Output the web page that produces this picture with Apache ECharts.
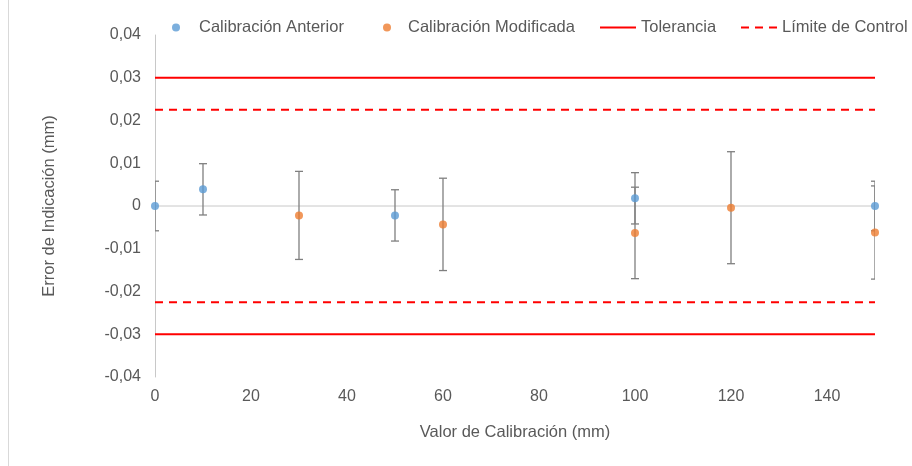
<!DOCTYPE html>
<html>
<head>
<meta charset="utf-8">
<script src="https://cdn.jsdelivr.net/npm/echarts@6/dist/echarts.min.js"></script>
<style>
  html, body { margin: 0; padding: 0; background: #fff; }
  #chart { width: 912px; height: 466px; }
</style>
</head>
<body>
<div id="chart"></div>
<script>
// Calibración anterior: punto de calibración, error medio e incertidumbre (±)
const xAnterior = [0, 10, 50, 100, 150];
const yAnterior = [0, 0.0039, -0.0022, 0.0018, 0];
const uAnterior = [0.0058, 0.006, 0.006, 0.006, 0.0058];

// Calibración modificada
const xModificada = [30, 60, 100, 120, 150];
const yModificada = [-0.0022, -0.0043, -0.0063, -0.0004, -0.0062];
const uModificada = [0.0103, 0.0108, 0.0107, 0.0131, 0.0109];

// Límites de aceptación
const tolerancia = 0.03;
const limiteControl = 0.0225;
const rangoX = [0, 150];

// Escalas de los ejes
const xTickStep = 20;
const yMin = -0.04, yMax = 0.04, yTickStep = 0.01;

const FONT = '"Liberation Sans", Arial, sans-serif';
const TXT = '#595959';

const toPoints = (xs, ys) => xs.map((x, i) => [x, ys[i]]);
const toBars = (xs, ys, us) => xs.map((x, i) => [x, ys[i] - us[i], ys[i] + us[i]]);
const hLine = (y) => [[rangoX[0], y], [rangoX[1], y]];

function renderErrorBar(params, api) {
  const x = api.value(0);
  const lo = api.coord([x, api.value(1)]);
  const hi = api.coord([x, api.value(2)]);
  const half = 4;
  const style = { stroke: '#7f7f7f', lineWidth: 1.3 };
  return {
    type: 'group',
    children: [
      { type: 'line', shape: { x1: lo[0], y1: lo[1], x2: hi[0], y2: hi[1] }, style },
      { type: 'line', shape: { x1: hi[0] - half, y1: hi[1], x2: hi[0] + half, y2: hi[1] }, style },
      { type: 'line', shape: { x1: lo[0] - half, y1: lo[1], x2: lo[0] + half, y2: lo[1] }, style }
    ]
  };
}

// Iconos de la leyenda: punto para las series de datos, trazo para los límites
const ICON_SOLID = 'path://M0,0h36v2h-36z';
const ICON_DASHED = 'path://M0,0h8v2h-8zM14,0h8v2h-8zM28,0h8v2h-8z';

function legendItem(name, left, icon, w, h, textPad) {
  return {
    data: [{ name, icon }],
    left, top: 19, padding: 0,
    itemWidth: w, itemHeight: h,
    selectedMode: false,
    textStyle: { fontFamily: FONT, fontSize: 16.5, color: TXT, padding: [0, 0, 0, textPad] }
  };
}

const option = {
  animation: false,
  backgroundColor: '#fff',
  textStyle: { fontFamily: FONT },
  grid: { left: 155, right: 37, top: 35, bottom: 89, containLabel: false },
  legend: [
    legendItem('Calibración Anterior', 172, 'circle', 8, 8, 14),
    legendItem('Calibración Modificada', 383, 'circle', 8, 8, 12),
    legendItem('Tolerancia', 600, ICON_SOLID, 36, 2, 0),
    legendItem('Límite de Control', 741, ICON_DASHED, 36, 2, 0)
  ],
  xAxis: {
    type: 'value',
    min: rangoX[0], max: rangoX[1], interval: xTickStep,
    name: 'Valor de Calibración (mm)',
    nameLocation: 'middle', nameGap: 47,
    nameTextStyle: { fontFamily: FONT, fontSize: 16.5, color: TXT },
    axisLine: { show: false, onZero: false },
    axisTick: { show: false },
    splitLine: { show: false },
    axisLabel: {
      margin: 12, fontFamily: FONT, fontSize: 16, color: TXT,
      formatter: (v) => (v % xTickStep === 0 ? String(v) : '')
    }
  },
  yAxis: {
    type: 'value',
    min: yMin, max: yMax, interval: yTickStep,
    name: 'Error de Indicación (mm)',
    nameLocation: 'middle', nameGap: 97,
    nameTextStyle: { fontFamily: FONT, fontSize: 16.5, color: TXT },
    axisLine: { show: true, lineStyle: { color: '#c8c8c8', width: 1 } },
    axisTick: { show: false },
    splitLine: { show: false },
    axisLabel: {
      margin: 14, fontFamily: FONT, fontSize: 16, color: TXT,
      formatter: (v) => (Math.abs(v) < 1e-9 ? '0' : v.toFixed(2).replace('.', ','))
    }
  },
  graphic: [
    { type: 'line', silent: true, shape: { x1: 8.5, y1: 0, x2: 8.5, y2: 466 },
      style: { stroke: '#d9d9d9', lineWidth: 1 } }
  ],
  series: [
    { name: 'eje cero', type: 'line', data: hLine(0), symbol: 'none', silent: true,
      lineStyle: { color: '#c8c8c8', width: 1 }, z: 1 },
    { name: 'Tolerancia', type: 'line', data: hLine(tolerancia), symbol: 'none',
      lineStyle: { color: '#ff0000', width: 2 }, itemStyle: { color: '#ff0000' }, z: 2 },
    { name: 'Tolerancia', type: 'line', data: hLine(-tolerancia), symbol: 'none',
      lineStyle: { color: '#ff0000', width: 2 }, itemStyle: { color: '#ff0000' }, z: 2 },
    { name: 'Límite de Control', type: 'line', data: hLine(limiteControl), symbol: 'none',
      lineStyle: { color: '#ff0000', width: 2, type: [8, 6] }, itemStyle: { color: '#ff0000' }, z: 2 },
    { name: 'Límite de Control', type: 'line', data: hLine(-limiteControl), symbol: 'none',
      lineStyle: { color: '#ff0000', width: 2, type: [8, 6] }, itemStyle: { color: '#ff0000' }, z: 2 },
    { name: 'barras anterior', type: 'custom', renderItem: renderErrorBar, clip: true,
      encode: { x: 0, y: [1, 2] }, data: toBars(xAnterior, yAnterior, uAnterior), z: 3 },
    { name: 'barras modificada', type: 'custom', renderItem: renderErrorBar, clip: true,
      encode: { x: 0, y: [1, 2] }, data: toBars(xModificada, yModificada, uModificada), z: 3 },
    { name: 'Calibración Anterior', type: 'scatter', data: toPoints(xAnterior, yAnterior),
      symbol: 'circle', symbolSize: 8, itemStyle: { color: '#5b9bd5' }, z: 4 },
    { name: 'Calibración Modificada', type: 'scatter', data: toPoints(xModificada, yModificada),
      symbol: 'circle', symbolSize: 8, itemStyle: { color: '#ed7d31' }, z: 4 }
  ]
};

const chart = echarts.init(document.getElementById('chart'), null, { renderer: 'canvas' });
chart.setOption(option);
</script>
</body>
</html>
